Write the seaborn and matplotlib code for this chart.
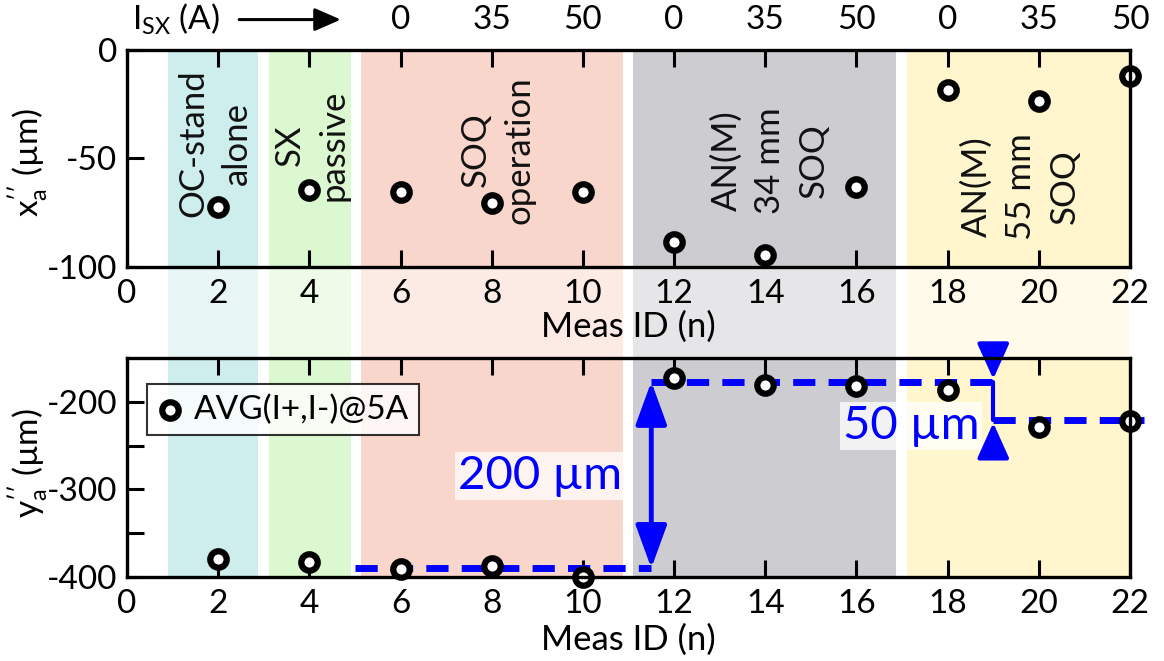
import numpy as np
import pandas as pd
import matplotlib
matplotlib.use("Agg")
import matplotlib.pyplot as plt
import seaborn as sns
from matplotlib.transforms import blended_transform_factory

# ---------------- data ----------------
meas_id = [2, 4, 6, 8, 10, 12, 14, 16, 18, 20, 22]
x_a = [-72.5, -64.5, -65.5, -70.5, -65.5, -88.5, -94.5, -63.0, -18.5, -23.5, -12.0]
y_a = [-379, -383, -391, -388, -400, -173, -181, -182, -187, -229, -222]

isx_ids = [6, 8, 10, 12, 14, 16, 18, 20, 22]
isx_labels = ["0", "35", "50", "0", "35", "50", "0", "35", "50"]

band_start = [0.9, 3.12, 5.13, 11.1, 17.1]
band_end = [2.87, 4.91, 10.88, 16.86, 21.97]
band_colors = ["#ceeeed", "#dbf8d0", "#f9d6cc", "#cdcdd1", "#fff6ce"]
band_light = ["#e8f6f6", "#eefbe8", "#fcebe5", "#e6e6e8", "#fffaea"]
band_labels = ["OC-stand\nalone", "SX\npassive", "SOQ\noperation",
               "AN(M)\n34 mm\nSOQ", "AN(M)\n55 mm\nSOQ"]
band_label_x = [1.93, 4.06, 8.14, 14.1, 19.6]
band_label_y = [-43, -44, -46, -51, -63]

low_x = [5.0, 11.5]
low_y = [-390, -390]
high_x = [11.5, 19.0]
high_y = [-177, -177]
right_x = [19.0, 22.3]
right_y = [-221, -221]

legend_label = "AVG(I+,I-)@5A"

# ---------------- style ----------------
sns.set_theme(style="white")
plt.rcParams["font.family"] = ["Lato", "DejaVu Sans"]
plt.rcParams["mathtext.fontset"] = "custom"
plt.rcParams["mathtext.rm"] = "Lato"
plt.rcParams["mathtext.it"] = "Lato:italic"
plt.rcParams["axes.unicode_minus"] = False
plt.rcParams["text.color"] = "black"
plt.rcParams["axes.labelcolor"] = "black"

FS = 24
df = pd.DataFrame({"meas": meas_id, "x": x_a, "y": y_a})

fig = plt.figure(figsize=(11.64, 6.61), dpi=100)
ax1 = fig.add_axes([0.1091, 0.5961, 0.8617, 0.3283])
ax2 = fig.add_axes([0.1091, 0.1271, 0.8617, 0.3313])

for s, e, c, cl in zip(band_start, band_end, band_colors, band_light):
    ax1.axvspan(s, e, ymin=0, ymax=1, color=c, lw=0, zorder=0)
    p = ax1.axvspan(s, e, ymin=-0.419, ymax=0, color=cl, lw=0, zorder=0)
    p.set_clip_on(False)
    ax2.axvspan(s, e, ymin=0, ymax=1, color=c, lw=0, zorder=0)

mk = dict(marker="o", s=140, facecolor="white", edgecolor="black",
          linewidth=4.5, zorder=6, clip_on=False)
sns.scatterplot(data=df, x="meas", y="x", ax=ax1, legend=False, **mk)
sns.scatterplot(data=df, x="meas", y="y", ax=ax2, label=legend_label, **mk)

for ax in (ax1, ax2):
    ax.set_xlim(0, 22)
    ax.set_xticks(np.arange(0, 23, 2))
    ax.tick_params(axis="both", direction="in", length=12, width=2.2,
                   labelsize=FS, colors="black", pad=9)
    ax.tick_params(axis="x", top=True, bottom=True)
    ax.tick_params(axis="y", left=True, right=False, pad=7)
    for sp in ax.spines.values():
        sp.set_linewidth(2.4)
        sp.set_color("black")
        sp.set_zorder(7)
    ax.set_facecolor("none")

ax1.set_xlabel("Meas ID (n)", fontsize=25, labelpad=1)
ax2.set_xlabel("Meas ID (n)", fontsize=25, labelpad=3)

ax1.set_ylim(-100, 0)
ax1.set_yticks([-100, -50, 0])
ax1.set_ylabel(r"x$^{\prime\prime}_{\mathregular{a}}$ (µm)", fontsize=FS)
ax1.yaxis.set_label_coords(-0.077, 0.48)

ax2.set_ylim(-400, -150)
ax2.set_yticks([-400, -350, -300, -250, -200])
ax2.set_yticklabels(["-400", "", "-300", "", "-200"])
ax2.set_ylabel(r"y$^{\prime\prime}_{\mathregular{a}}$ (µm)", fontsize=FS)
ax2.yaxis.set_label_coords(-0.077, 0.52)

# band labels
for lx, ly, lab in zip(band_label_x, band_label_y, band_labels):
    ax1.text(lx, ly, lab, rotation=90, ha="center", va="center",
             multialignment="center", fontsize=25, linespacing=1.45,
             color="#111111", zorder=3)

# top I_SX labels
tr = blended_transform_factory(ax1.transData, ax1.transAxes)
for xi, lab in zip(isx_ids, isx_labels):
    ax1.text(xi, 1.14, lab, transform=tr, ha="center", va="center", fontsize=FS)
ax1.text(1.07, 1.14, r"$\mathregular{I_{SX}}$ (A)", transform=tr, ha="center",
         va="center", fontsize=FS)
ax1.annotate("", xy=(4.75, 1.14), xytext=(2.4, 1.14), xycoords=tr, textcoords=tr,
             arrowprops=dict(arrowstyle="-|>,head_length=0.8,head_width=0.35",
                             color="black", lw=2.2, mutation_scale=20),
             annotation_clip=False)

# dashed level lines
dash = dict(color="blue", lw=5, zorder=5)
for xs, ys in ((low_x, low_y), (high_x, high_y), (right_x, right_y)):
    ln = sns.lineplot(x=xs, y=ys, ax=ax2, legend=False, **dash).lines[-1]
    ln.set_dashes((3.2, 1.9))
    ln.set_clip_on(False)

# 200 um arrow
ax2.annotate("", xy=(11.5, -177), xytext=(11.5, -390),
             arrowprops=dict(arrowstyle="<|-|>,head_length=1.1,head_width=0.4",
                             color="blue", lw=3.5, mutation_scale=24,
                             shrinkA=0, shrinkB=0), zorder=5)
ax2.text(9.05, -285, "200 µm", color="blue", fontsize=34, ha="center", va="center",
         zorder=5, bbox=dict(facecolor="white", alpha=0.75, edgecolor="none", pad=2))

# 50 um arrows
ax2.plot([19, 19], [-177, -221], color="blue", lw=3, zorder=5)
ax2.annotate("", xy=(19, -174), xytext=(19, -136),
             arrowprops=dict(arrowstyle="-|>,head_length=1.0,head_width=0.45",
                             color="blue", lw=3, mutation_scale=22,
                             shrinkA=0, shrinkB=0),
             annotation_clip=False, zorder=5)
ax2.annotate("", xy=(19, -224), xytext=(19, -262),
             arrowprops=dict(arrowstyle="-|>,head_length=1.0,head_width=0.45",
                             color="blue", lw=3, mutation_scale=22,
                             shrinkA=0, shrinkB=0),
             annotation_clip=False, zorder=5)
ax2.text(17.2, -228, "50 µm", color="blue", fontsize=34, ha="center", va="center",
         zorder=4, bbox=dict(facecolor="white", alpha=0.75, edgecolor="none", pad=2))

leg = ax2.legend(loc="upper left", bbox_to_anchor=(0.02, 0.88), fontsize=FS,
                 frameon=True, fancybox=False, edgecolor="black",
                 framealpha=0.8, handletextpad=0.3, borderpad=0.3,
                 handlelength=0.8, borderaxespad=0)
leg.get_frame().set_linewidth(1.5)
leg.set_zorder(8)

fig.savefig("out.png", dpi=100)
